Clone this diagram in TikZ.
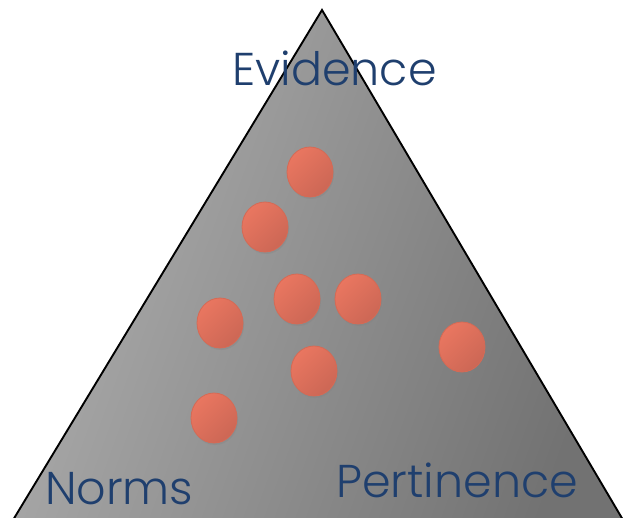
\documentclass[tikz,border=0pt]{standalone}
\usepackage{fontspec}
\newfontfamily\gothic{Poppins Light}
\usetikzlibrary{positioning, shapes.geometric, shadows}
\definecolor{triLight}{RGB}{174,174,174}
\definecolor{triDark}{RGB}{114,114,114}
\definecolor{ballLight}{RGB}{233,118,96}
\definecolor{ballDark}{RGB}{204,103,85}
\definecolor{ballEdge}{RGB}{213,106,85}
\definecolor{labelBlue}{RGB}{31,63,110}
\tikzset{
  triangle/.style={
    draw=black, line width=1.9pt,
    left color=triLight, right color=triDark, shading angle=70
  },
  ball/.style={
    ellipse, minimum width=46pt, minimum height=50pt, inner sep=0pt,
    draw=ballEdge, line width=0.8pt,
    top color=ballLight, bottom color=ballDark, shading angle=45,
    drop shadow={opacity=0.3, shadow xshift=1pt, shadow yshift=-2pt}
  },
  corner/.style={
    font=\gothic\fontsize{46}{46}\selectfont, text=labelBlue,
    inner sep=0pt, anchor=base west
  }
}

\begin{document}
\begin{tikzpicture}[x=1pt, y=-1pt]
  \useasboundingbox (0,0) rectangle (623,518);
  \clip (0,0) rectangle (623,518);
  % the triangle
  \coordinate (apex) at (322,10);
  \coordinate (left) at (10,525);
  \coordinate (right) at (626,525);
  \path[triangle] (apex) -- (left) -- (right) -- cycle;
  % the dots
  \node[ball] (b1) at (310,172) {};
  \node[ball] (b2) at (265,227) {};
  \node[ball] (b3) at (297,299) {};
  \node[ball] (b4) at (358,299) {};
  \node[ball] (b5) at (220,323) {};
  \node[ball] (b6) at (462,347) {};
  \node[ball] (b7) at (314,371) {};
  \node[ball] (b8) at (214,418) {};
  % corner labels
  \node[corner] (evidence) at (232,86) {Evidence};
  \node[corner] (norms) at (45,504) {Norms};
  \node[corner] (pertinence) at (336,497) {Pertinence};
\end{tikzpicture}
\end{document}
